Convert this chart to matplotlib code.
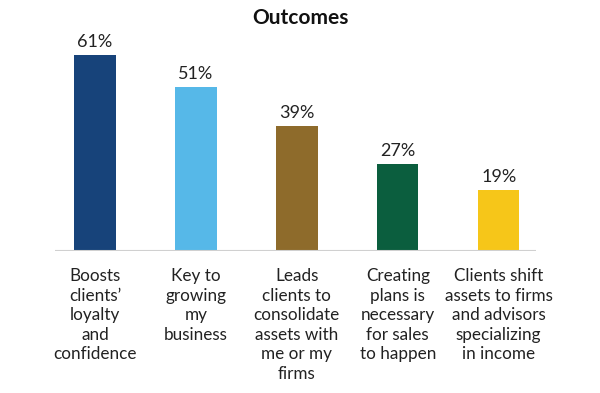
import matplotlib
matplotlib.use("Agg")
import matplotlib.pyplot as plt

categories = [
    "Boosts\nclients\u2019\nloyalty\nand\nconfidence",
    "Key to\ngrowing\nmy\nbusiness",
    "Leads\nclients to\nconsolidate\nassets with\nme or my\nfirms",
    "Creating\nplans is\nnecessary\nfor sales\nto happen",
    "Clients shift\nassets to firms\nand advisors\nspecializing\nin income",
]
values = [61, 51, 39, 27, 19]
colors = ["#17437a", "#56b8e8", "#8e6b2b", "#0b5e3e", "#f6c619"]

plt.rcParams["font.family"] = ["Lato", "DejaVu Sans"]

fig = plt.figure(figsize=(6, 3.93), dpi=100)
ax = fig.add_axes([0.0917, 0.3613, 0.8017, 0.5623])

x = list(range(len(values)))
ax.bar(x, values, width=0.41, color=colors)

for i, v in enumerate(values):
    ax.annotate(f"{v}%", xy=(i, v), xytext=(0, 3.5), textcoords="offset points",
                ha="center", va="bottom", fontsize=13, color="#222222")
    ax.annotate(categories[i], xy=(i, 0), xytext=(0, -12.5), textcoords="offset points",
                ha="center", va="top", fontsize=12.3, color="#222222",
                multialignment="center", linespacing=1.27)

ax.set_xlim(-0.396, 4.37)
ax.set_ylim(0, 68.85)
ax.axhline(0, color="#d0d0d0", linewidth=1.5)
for s in ax.spines.values():
    s.set_visible(False)
ax.set_xticks([])
ax.set_yticks([])

fig.text(0.5, 1 - 18 / 393, "Outcomes", ha="center", va="center",
         fontsize=15, fontweight="bold", color="#111111")

fig.savefig("out.png", dpi=100, facecolor="white")
